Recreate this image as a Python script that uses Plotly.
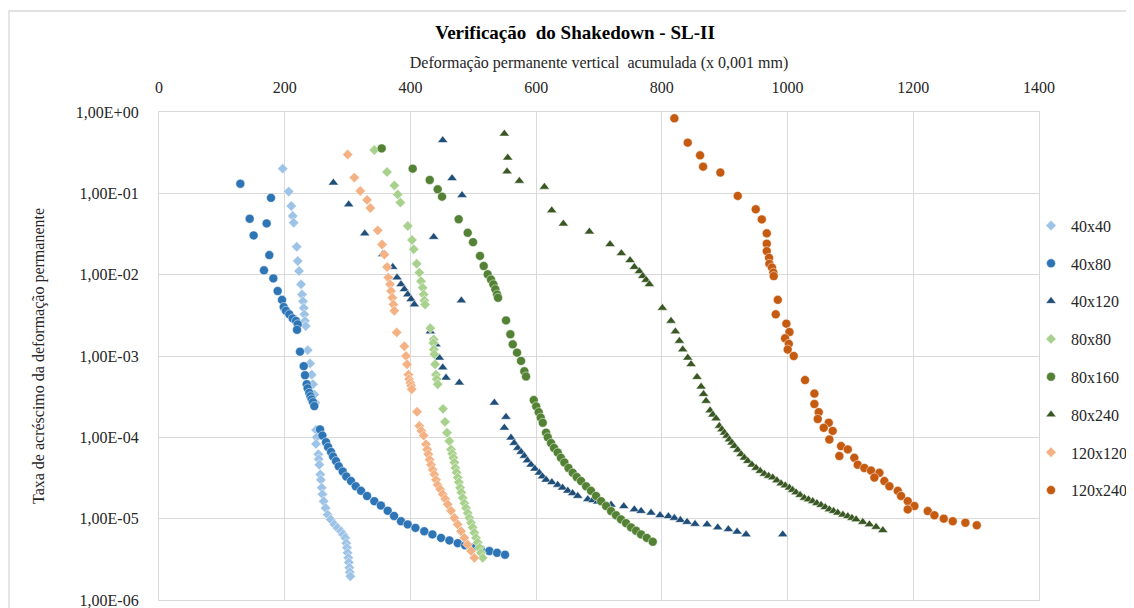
import plotly.graph_objects as go

# Deformação acumulada (x 0,001 mm) e taxa de acréscimo
x_40x40 = [196.8, 206.4, 210.5, 212.7, 214.3, 219.1, 220.7, 222.8, 226.0, 227.5, 229.1, 230.2, 231.2, 232.3,
           233.4, 236.6, 240.3, 243.0, 245.0, 247.1, 248.7, 249.8, 251.0, 249.8, 253.5, 254.0, 255.0, 256.6,
           257.5, 258.9, 260.0, 262.0, 265.0, 268.4, 273.0, 279.0, 284.0, 289.6, 293.0, 296.4, 298.0, 299.0,
           300.0, 301.2, 302.0, 302.8, 303.5, 304.4]
y_40x40 = [0.201, 0.105, 0.070, 0.0526, 0.0435, 0.022, 0.0147, 0.0111, 0.0076, 0.0057, 0.0047, 0.0039, 0.00325,
           0.0027, 0.00234, 0.00118, 0.00081, 0.00059, 0.00045, 0.000336, 0.000266, 0.000123, 0.0001, 8.3e-5,
           6.2e-5, 5.4e-5, 4.6e-5, 3.5e-5, 3.0e-5, 2.4e-5, 2.0e-5, 1.64e-5, 1.35e-5, 1.12e-5, 9.8e-6, 8.5e-6,
           7.7e-6, 7.0e-6, 6.4e-6, 5.8e-6, 5.0e-6, 4.4e-6, 3.8e-6, 3.3e-6, 2.9e-6, 2.5e-6, 2.2e-6, 1.96e-6]

x_40x80 = [129.4, 178.2, 144.3, 171.3, 150.6, 175.5, 167.0, 181.9, 188.8, 195.7, 198.4, 202.0, 207.4, 212.7,
           218.0, 220.7, 219.6, 224.3, 230.2, 232.3, 235.0, 236.5, 239.2, 241.0, 243.0, 245.0, 247.1, 256.2,
           260.0, 265.7, 269.0, 273.7, 277.0, 281.6, 286.0, 292.3, 298.0, 305.5, 313.0, 321.4, 331.0, 342.6,
           353.0, 363.8, 374.0, 385.0, 395.7, 408.0, 422.0, 435.0, 448.7, 462.0, 475.3, 487.0, 499.0, 512.0,
           525.6, 537.8, 550.5]
y_40x80 = [0.131, 0.088, 0.0487, 0.0427, 0.0304, 0.0174, 0.0113, 0.009, 0.0063, 0.0049, 0.004, 0.0036, 0.00325,
           0.0029, 0.0027, 0.00245, 0.0021, 0.00113, 0.00075, 0.00058, 0.00045, 0.0004, 0.000352, 0.00032,
           0.000293, 0.00027, 0.000242, 0.000125, 0.000105, 8.7e-5, 7.6e-5, 6.6e-5, 5.8e-5, 5.1e-5, 4.4e-5,
           3.8e-5, 3.3e-5, 2.9e-5, 2.5e-5, 2.2e-5, 1.9e-5, 1.64e-5, 1.45e-5, 1.25e-5, 1.08e-5, 9.3e-6, 8.5e-6,
           7.7e-6, 7.0e-6, 6.4e-6, 5.8e-6, 5.4e-6, 5.0e-6, 4.7e-6, 4.4e-6, 4.2e-6, 4.0e-6, 3.8e-6, 3.6e-6]

x_40x120 = [277.4, 301.8, 327.3, 355.9, 371.8, 378.7, 385.0, 390.3, 395.7, 401.0, 406.2, 451.4, 466.2, 482.1,
            437.0, 481.0, 431.7, 440.7, 446.0, 451.4, 456.6, 477.8, 533.5, 552.0, 549.4, 560.0, 565.0, 570.7,
            576.0, 581.2, 586.0, 591.9, 598.0, 605.0, 610.0, 615.8, 625.0, 634.3, 642.0, 650.3, 658.0, 666.2,
            682.1, 690.0, 698.0, 708.0, 719.2, 739.4, 756.2, 766.9, 782.8, 797.1, 810.4, 819.9, 829.5, 840.1,
            852.8, 871.9, 888.9, 905.8, 919.7, 934.0, 992.3]
y_40x120 = [0.135, 0.073, 0.032, 0.0178, 0.0124, 0.0092, 0.0076, 0.0066, 0.0057, 0.005, 0.0043, 0.449, 0.153,
            0.095, 0.029, 0.0048, 0.002, 0.00138, 0.00095, 0.00072, 0.00054, 0.00047, 0.000266, 0.000178,
            0.000131, 9.9e-5, 8.5e-5, 7.4e-5, 6.6e-5, 5.9e-5, 5.2e-5, 4.6e-5, 4.1e-5, 3.66e-5, 3.3e-5, 3.0e-5,
            2.8e-5, 2.6e-5, 2.4e-5, 2.2e-5, 2.05e-5, 1.9e-5, 1.73e-5, 1.68e-5, 1.62e-5, 1.55e-5, 1.48e-5,
            1.42e-5, 1.3e-5, 1.24e-5, 1.18e-5, 1.1e-5, 1.07e-5, 1.02e-5, 9.6e-6, 9.1e-6, 8.6e-6, 8.5e-6, 7.8e-6,
            7.4e-6, 6.9e-6, 6.4e-6, 6.4e-6]

x_80x80 = [342.6, 362.8, 374.4, 379.8, 384.0, 395.7, 402.5, 405.2, 410.0, 414.2, 416.9, 419.5, 421.1, 422.2,
           423.3, 431.7, 437.0, 436.5, 437.3, 438.0, 439.2, 440.7, 441.8, 443.4, 451.9, 455.0, 458.2, 461.9,
           464.6, 466.5, 468.3, 469.9, 471.5, 473.4, 475.3, 477.1, 479.0, 481.1, 483.2, 485.8, 488.5, 491.1,
           493.8, 496.4, 499.1, 501.7, 504.4, 507.0, 509.6, 512.3, 515.0]
y_80x80 = [0.341, 0.183, 0.125, 0.097, 0.077, 0.0397, 0.0267, 0.0205, 0.0136, 0.0106, 0.0083, 0.0069, 0.0057,
           0.0048, 0.0043, 0.0022, 0.0016, 0.00145, 0.0012, 0.00105, 0.00079, 0.00059, 0.00052, 0.00045,
           0.000224, 0.000155, 0.000114, 9.0e-5, 7.1e-5, 6.3e-5, 5.6e-5, 4.9e-5, 4.2e-5, 3.7e-5, 3.2e-5, 2.8e-5,
           2.4e-5, 2.1e-5, 1.8e-5, 1.55e-5, 1.35e-5, 1.17e-5, 1.02e-5, 8.9e-6, 7.8e-6, 6.7e-6, 5.8e-6, 5.1e-6,
           4.4e-6, 3.8e-6, 3.3e-6]

x_80x160 = [354.3, 403.6, 430.7, 443.4, 450.3, 476.8, 491.1, 499.6, 510.7, 516.6, 522.9, 528.2, 531.9, 535.1,
            537.8, 539.4, 552.1, 559.0, 562.8, 569.6, 576.0, 581.2, 583.9, 596.2, 600.1, 604.1, 607.3, 610.5,
            615.8, 618.5, 623.7, 628.5, 634.3, 639.5, 644.9, 651.5, 658.2, 664.5, 671.5, 679.5, 687.3, 695.3,
            703.3, 711.3, 719.2, 727.1, 735.0, 743.0, 751.0, 759.0, 766.9, 776.0, 785.5]
y_80x160 = [0.357, 0.201, 0.146, 0.112, 0.091, 0.048, 0.0327, 0.0251, 0.017, 0.0128, 0.0101, 0.0087, 0.0076,
            0.0066, 0.0057, 0.0052, 0.00274, 0.00185, 0.00139, 0.0011, 0.00087, 0.00065, 0.00056, 0.000287,
            0.00024, 0.000204, 0.000175, 0.000151, 0.000114, 0.0001, 8.5e-5, 7.4e-5, 6.5e-5, 5.6e-5, 4.9e-5,
            4.2e-5, 3.66e-5, 3.25e-5, 2.9e-5, 2.5e-5, 2.2e-5, 1.9e-5, 1.64e-5, 1.43e-5, 1.24e-5, 1.1e-5, 9.8e-6,
            8.8e-6, 7.8e-6, 7.1e-6, 6.4e-6, 5.8e-6, 5.2e-6]

x_80x240 = [549.4, 554.8, 553.7, 573.3, 613.1, 624.8, 643.3, 684.7, 717.6, 735.6, 749.4, 756.2, 764.2, 769.6,
            774.9, 780.1, 800.8, 814.6, 821.5, 827.9, 833.2, 841.2, 846.5, 856.0, 862.4, 866.3, 870.3, 876.7,
            881.0, 886.2, 891.5, 895.5, 899.5, 903.4, 907.4, 911.4, 915.4, 920.7, 926.0, 931.3, 936.7, 943.3,
            949.9, 956.5, 963.1, 969.8, 976.4, 983.0, 989.7, 996.3, 1002.9, 1008.0, 1013.5, 1020.0, 1026.7,
            1033.3, 1040.0, 1046.6, 1053.3, 1059.9, 1066.5, 1073.2, 1079.9, 1088.0, 1095.8, 1102.4, 1109.0,
            1119.6, 1130.2, 1140.8, 1151.5]
y_80x240 = [0.54, 0.274, 0.185, 0.142, 0.12, 0.0617, 0.0423, 0.0338, 0.0236, 0.0183, 0.015, 0.0124, 0.011,
            0.0096, 0.0086, 0.0076, 0.0039, 0.0027, 0.002, 0.00153, 0.0012, 0.00095, 0.00079, 0.00055, 0.00042,
            0.00034, 0.00028, 0.000214, 0.00019, 0.00017, 0.000138, 0.000125, 0.000114, 0.000104, 9.4e-5,
            8.6e-5, 7.8e-5, 7.0e-5, 6.2e-5, 5.6e-5, 5.1e-5, 4.6e-5, 4.2e-5, 3.85e-5, 3.55e-5, 3.35e-5, 3.2e-5,
            2.95e-5, 2.7e-5, 2.55e-5, 2.4e-5, 2.25e-5, 2.1e-5, 1.95e-5, 1.8e-5, 1.72e-5, 1.64e-5, 1.55e-5,
            1.47e-5, 1.38e-5, 1.3e-5, 1.24e-5, 1.18e-5, 1.12e-5, 1.07e-5, 1.02e-5, 9.8e-6, 9.1e-6, 8.5e-6,
            7.9e-6, 7.2e-6]

x_120x120 = [300.2, 310.7, 320.3, 331.0, 336.2, 348.0, 354.8, 358.5, 362.8, 364.8, 367.5, 369.1, 371.2, 372.8,
             374.4, 378.2, 390.3, 393.0, 394.6, 396.7, 397.8, 399.8, 401.0, 402.0, 410.5, 414.2, 417.5, 421.1,
             424.8, 426.6, 428.5, 430.6, 432.8, 435.4, 438.0, 440.7, 443.4, 447.4, 451.4, 455.4, 459.3, 464.6,
             469.9, 475.2, 480.5, 485.8, 491.1, 496.4, 501.7]
y_120x120 = [0.30, 0.156, 0.107, 0.083, 0.066, 0.035, 0.0235, 0.0177, 0.0124, 0.0092, 0.0076, 0.0063, 0.0052,
             0.0043, 0.0036, 0.00195, 0.00132, 0.001, 0.00079, 0.00059, 0.00052, 0.00047, 0.00043, 0.00039,
             0.000206, 0.000138, 0.00012, 0.000105, 8.2e-5, 7.1e-5, 6.2e-5, 5.3e-5, 4.6e-5, 4.0e-5, 3.5e-5,
             3.0e-5, 2.6e-5, 2.3e-5, 2.0e-5, 1.75e-5, 1.5e-5, 1.25e-5, 1.02e-5, 8.5e-6, 7.0e-6, 5.8e-6, 4.8e-6,
             4.0e-6, 3.3e-6]

x_120x240 = [819.9, 841.2, 860.8, 865.6, 893.1, 920.7, 949.4, 959.0, 966.9, 966.9, 966.9, 970.6, 971.1, 975.3,
             977.4, 978.0, 984.4, 981.2, 998.1, 1003.0, 996.0, 1001.9, 1000.2, 1009.8, 1027.8, 1042.7, 1042.7,
             1049.6, 1048.0, 1065.5, 1057.5, 1071.8, 1066.5, 1085.1, 1095.8, 1082.4, 1106.2, 1111.6, 1122.2,
             1132.8, 1146.1, 1138.1, 1154.0, 1162.0, 1175.3, 1180.6, 1191.2, 1201.8, 1191.2, 1223.0, 1233.6,
             1248.5, 1262.8, 1282.9, 1301.0]
y_120x240 = [0.836, 0.42, 0.293, 0.213, 0.18, 0.093, 0.0636, 0.0478, 0.0322, 0.024, 0.0195, 0.0161, 0.0136,
             0.0122, 0.0106, 0.0096, 0.0049, 0.00325, 0.0025, 0.00197, 0.00165, 0.00141, 0.0012, 0.001, 0.000506,
             0.000345, 0.000257, 0.000204, 0.000168, 0.000151, 0.000131, 0.00012, 9.4e-5, 7.8e-5, 7.1e-5, 5.9e-5,
             5.6e-5, 4.6e-5, 4.2e-5, 3.9e-5, 3.66e-5, 3.2e-5, 2.9e-5, 2.5e-5, 2.2e-5, 1.9e-5, 1.64e-5, 1.43e-5,
             1.3e-5, 1.24e-5, 1.1e-5, 1.0e-5, 9.3e-6, 8.9e-6, 8.3e-6]

y_ticks = [1e-6, 1e-5, 1e-4, 1e-3, 1e-2, 1e-1, 1]
y_labels = ['1,00E-06', '1,00E-05', '1,00E-04', '1,00E-03', '1,00E-02', '1,00E-01', '1,00E+00']

series = [
    ('40x40', x_40x40, y_40x40, 'diamond', '#9DC3E6', 8),
    ('40x80', x_40x80, y_40x80, 'circle', '#2E75B6', 9),
    ('40x120', x_40x120, y_40x120, 'triangle-up', '#1F4E79', 9),
    ('80x80', x_80x80, y_80x80, 'diamond', '#A9D18E', 8),
    ('80x160', x_80x160, y_80x160, 'circle', '#548235', 9),
    ('80x240', x_80x240, y_80x240, 'triangle-up', '#385723', 9),
    ('120x120', x_120x120, y_120x120, 'diamond', '#F4B183', 8),
    ('120x240', x_120x240, y_120x240, 'circle', '#C55A11', 9),
]

fig = go.Figure()
for name, xs, ys, sym, col, size in series:
    fig.add_trace(go.Scatter(x=xs, y=ys, mode='markers', name=name, legendgroup=name,
                             marker=dict(symbol=sym, color=col, size=size,
                                         line=dict(width=0.5, color='white'))))

font = 'Liberation Serif'
grid = '#D9D9D9'
txt = '#262626'

# a página tem ~7px de margem no body; área do gráfico: x 151..1031, y 104..592
fig.update_layout(
    width=1134, height=608,
    margin=dict(l=151, r=103, t=104, b=16, autoexpand=False),
    paper_bgcolor='white', plot_bgcolor='white',
    font=dict(family=font, size=16, color=txt),
    title=dict(text='<b>Verificação  do Shakedown - SL-II</b>', x=0.5, xref='container',
               y=1 - 24 / 608, yref='container', yanchor='middle',
               font=dict(family=font, size=19, color='black')),
    xaxis=dict(side='top', range=[0, 1400], dtick=200, showgrid=True, gridcolor=grid, gridwidth=1.3,
               showline=True, linecolor=grid, linewidth=1.3, mirror=True, zeroline=False, ticks='',
               automargin=False, ticklabelstandoff=11,
               tickfont=dict(family=font, size=16, color=txt),
               title=dict(text='Deformação permanente vertical  acumulada (x 0,001 mm)', standoff=6,
                          font=dict(family=font, size=16, color=txt))),
    yaxis=dict(type='log', range=[-6, 0], tickvals=y_ticks, ticktext=y_labels, showgrid=True,
               gridcolor=grid, gridwidth=1.3, showline=True, linecolor=grid, linewidth=1.3, mirror=True,
               ticks='', zeroline=False, automargin=False, ticklabelstandoff=16,
               tickfont=dict(family=font, size=16, color=txt),
               title=dict(text='Taxa de acréscimo da deformação permanente', standoff=27,
                          font=dict(family=font, size=16, color=txt))),
    legend=dict(x=(1023 - 151) / 880, xanchor='left', y=0.802, yanchor='top', tracegroupgap=14,
                font=dict(family=font, size=16, color=txt), itemsizing='trace',
                bgcolor='rgba(0,0,0,0)'),
    showlegend=True,
)

# borda da área do gráfico
fig.add_shape(type='rect', xref='paper', yref='paper',
              x0=(1 - 151) / 880, x1=(1140 - 151) / 880,
              y0=-0.1, y1=1 + (104 - 3) / 488,
              line=dict(color=grid, width=1.3), layer='below')

fig.write_html('out.html')
